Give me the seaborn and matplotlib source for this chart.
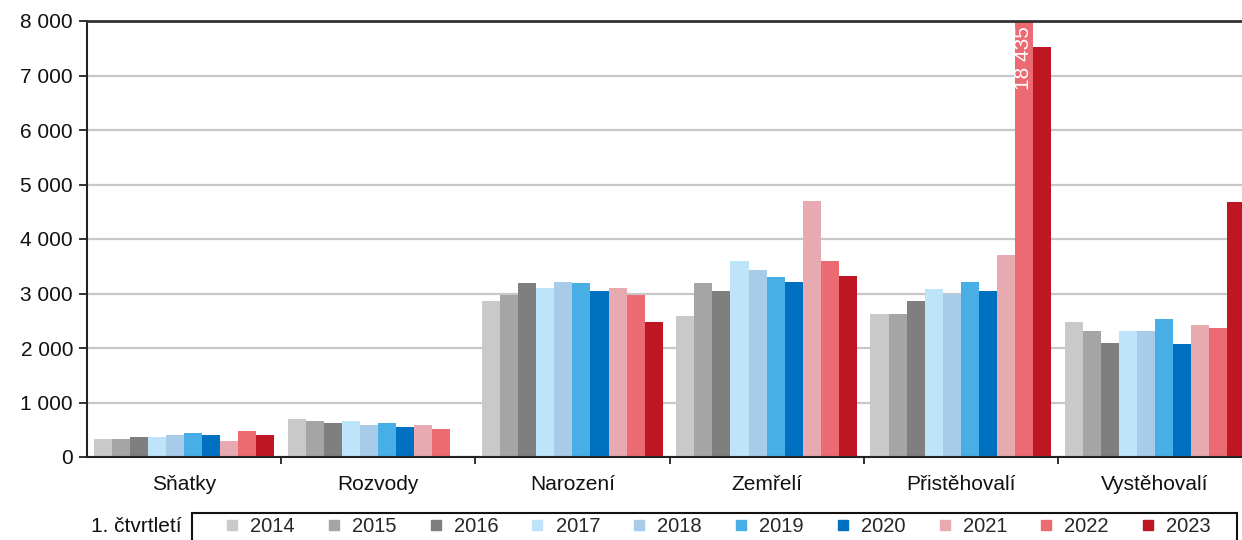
import numpy as np
import pandas as pd
import matplotlib
matplotlib.use("Agg")
import matplotlib.pyplot as plt
from matplotlib.lines import Line2D
from matplotlib.patches import Rectangle
from matplotlib.ticker import FuncFormatter, FixedLocator
import seaborn as sns

categories = ["Sňatky", "Rozvody", "Narození", "Zemřelí", "Přistěhovalí", "Vystěhovalí"]
years = ["2014", "2015", "2016", "2017", "2018", "2019", "2020", "2021", "2022", "2023"]
v2014 = [330, 700, 2860, 2580, 2620, 2470]
v2015 = [330, 660, 2970, 3190, 2620, 2320]
v2016 = [370, 625, 3190, 3040, 2860, 2100]
v2017 = [370, 660, 3110, 3590, 3080, 2320]
v2018 = [410, 590, 3220, 3440, 3000, 2320]
v2019 = [445, 625, 3190, 3300, 3220, 2540]
v2020 = [410, 550, 3040, 3220, 3040, 2070]
v2021 = [295, 595, 3110, 4690, 3700, 2430]
v2022 = [485, 520, 2970, 3590, 18435, 2360]
v2023 = [410, np.nan, 2470, 3330, 7520, 4670]
colors = ["#c9c9c9", "#a5a5a5", "#7f7f7f", "#bee4f9", "#a7cbe8", "#48afe6",
          "#0070c0", "#e8aab1", "#ec6b73", "#be1622"]
legend_title = "1. čtvrtletí"

series = [v2014, v2015, v2016, v2017, v2018, v2019, v2020, v2021, v2022, v2023]
rows = []
for y, vals in zip(years, series):
    for c, v in zip(categories, vals):
        rows.append({"cat": c, "year": y, "value": v})
df = pd.DataFrame(rows)

sns.set_style("white")
plt.rcParams["font.family"] = ["Liberation Sans", "DejaVu Sans"]

W, H = 1242, 540
FS = 15
fig = plt.figure(figsize=(W / 100, H / 100), dpi=100)
ax = fig.add_axes([87 / W, 1 - 457 / H, (1252 - 87) / W, (457 - 21) / H])

sns.barplot(data=df, x="cat", y="value", hue="year", hue_order=years,
            order=categories, palette=colors, width=0.93, gap=0,
            saturation=1, errorbar=None, legend=False, ax=ax,
            linewidth=0, edgecolor="none")

ax.set_ylim(0, 8000)
ax.set_xlim(-0.5, len(categories) - 0.5)
ax.set_xlabel("")
ax.set_ylabel("")
ax.yaxis.set_major_locator(FixedLocator(np.arange(0, 8001, 1000)))
ax.yaxis.set_major_formatter(FuncFormatter(lambda v, p: f"{int(v):,}".replace(",", " ")))
ax.grid(axis="y", color="#c8c8c8", linewidth=1.6)
ax.set_axisbelow(True)

for s in ["left", "bottom"]:
    ax.spines[s].set_color("#222222")
    ax.spines[s].set_linewidth(1.5)
ax.spines["top"].set_color("#333333")
ax.spines["top"].set_linewidth(2)
ax.spines["right"].set_visible(False)

ax.tick_params(axis="y", which="major", left=True, length=6, width=1.3,
               color="#222222", labelsize=FS, pad=4, labelcolor="#111111")
ax.tick_params(axis="x", which="major", bottom=False, length=0,
               labelsize=FS, pad=13, labelcolor="#111111")
ax.xaxis.set_minor_locator(FixedLocator(np.arange(0.5, len(categories) - 0.5, 1)))
ax.tick_params(axis="x", which="minor", bottom=True, length=5, width=1.3,
               color="#222222", direction="out")

# value label for clipped bar
bar = ax.containers[years.index("2022")][categories.index("Přistěhovalí")]
bx = bar.get_x() + bar.get_width() / 2
ax.text(bx, 7900, "18 435", rotation=90, ha="center", va="top",
        color="white", fontsize=FS)

# legend
LFS = 14.5
em = LFS * 100 / 72
handles = [Line2D([], [], marker="s", linestyle="", color=c, markersize=7)
           for c in colors]
leg = fig.legend(handles, years, ncol=10, loc="center left",
                 bbox_to_anchor=(226 / W, 1 - 527 / H),
                 borderaxespad=0, borderpad=0, frameon=False,
                 fontsize=LFS, handletextpad=0.6, handlelength=0.6,
                 columnspacing=(102 - 0.6 * em - 0.6 * em - 2.224 * em) / em)
fig.patches.append(Rectangle((192 / W, -0.05), (1237 - 192) / W, 0.05 + 1 - 513 / H,
                             transform=fig.transFigure, fill=False,
                             edgecolor="#111111", linewidth=1.5, clip_on=False))
fig.text(182 / W, 1 - 527 / H, legend_title, ha="right", va="center",
         fontsize=FS, color="#111111")

fig.savefig("out.png", dpi=100)
